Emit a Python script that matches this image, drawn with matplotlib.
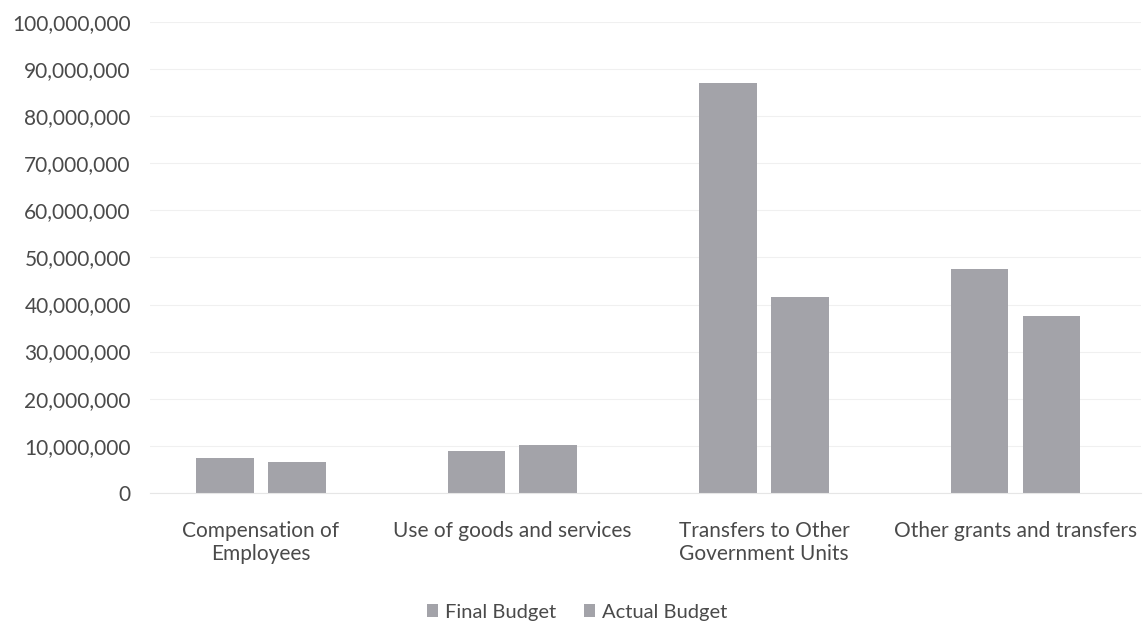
import matplotlib.pyplot as plt
import numpy as np
from matplotlib.ticker import FuncFormatter

categories = ['Compensation of\nEmployees', 'Use of goods and services',
              'Transfers to Other\nGovernment Units', 'Other grants and transfers']
final_budget = [7400000, 8800000, 87000000, 47500000]
actual_budget = [6600000, 10200000, 41500000, 37500000]

plt.rcParams['font.family'] = ['Lato', 'DejaVu Sans']

fig = plt.figure(figsize=(11.47, 6.31), dpi=100)
ax = fig.add_axes([0.131, 0.219, 0.864, 0.746])

x = np.arange(len(categories))
w = 0.23
bar_col = '#a3a3a9'
ax.bar(x - 0.143, final_budget, w, color=bar_col, label='Final Budget')
ax.bar(x + 0.143, actual_budget, w, color=bar_col, label='Actual Budget')

ax.set_ylim(0, 100000000)
ax.set_xlim(-0.44, 3.5)
ax.set_yticks(np.arange(0, 100000001, 10000000))
ax.yaxis.set_major_formatter(FuncFormatter(lambda v, p: '{:,.0f}'.format(v)))
ax.grid(axis='y', color='#f0f0f0', linewidth=0.8)
ax.set_axisbelow(True)

ax.set_xticks(x)
ax.set_xticklabels(categories, linespacing=1.2)
ax.tick_params(length=0, labelsize=15, colors='#4a4a4a')
ax.tick_params(axis='x', pad=20)
ax.tick_params(axis='y', pad=14)
for s in ['top', 'right', 'left']:
    ax.spines[s].set_visible(False)
ax.spines['bottom'].set_color('#e6e6e6')

fig.legend(loc='center', bbox_to_anchor=(0.503, 0.03), ncol=2, frameon=False,
           fontsize=14.5, handlelength=0.55, handleheight=0.55, columnspacing=1.4,
           handletextpad=0.35, labelcolor='#4a4a4a')

fig.savefig('out.png', dpi=100)
